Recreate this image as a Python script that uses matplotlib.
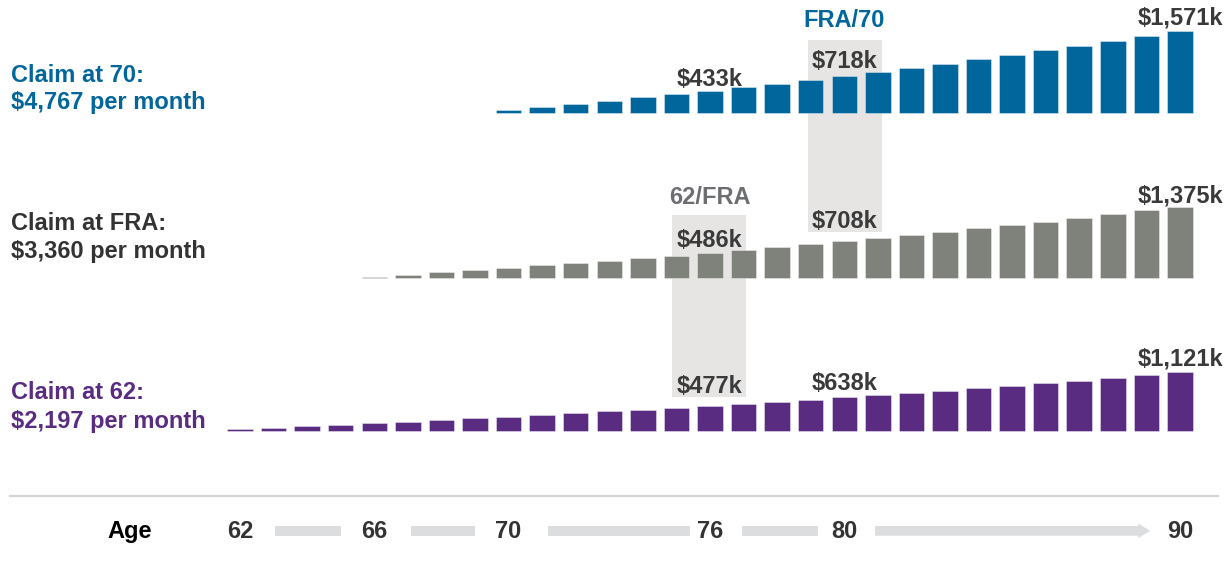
import matplotlib.pyplot as plt
from matplotlib.patches import Rectangle, FancyArrow

# cumulative benefits ($k) by age for each claiming strategy
ages_62 = list(range(62, 91))
claim_62 = [26, 53, 81, 110, 141, 172, 204, 237, 270, 303, 337, 372, 405, 441, 477,
            516, 556, 597, 638, 681, 725, 771, 817, 864, 913, 963, 1014, 1067, 1121]

ages_fra = list(range(66, 91))
claim_fra = [30, 70, 113, 157, 200, 246, 292, 340, 388, 437, 486, 540, 596, 652, 708,
             772, 834, 898, 961, 1025, 1090, 1163, 1234, 1305, 1375]

ages_70 = list(range(70, 91))
claim_70 = [60, 118, 178, 240, 304, 368, 433, 500, 570, 642, 718, 795, 875, 956, 1038,
            1121, 1208, 1295, 1386, 1478, 1571]

label_ages = [76, 80, 90]
row_titles = [('Claim at 70:', '$4,767 per month'),
              ('Claim at FRA:', '$3,360 per month'),
              ('Claim at 62:', '$2,197 per month')]
age_ticks = [62, 66, 70, 76, 80, 90]

BLUE = '#00669b'
GRAY = '#7f817b'
PURPLE = '#592c82'
TEXT = '#3a3a3a'
BOX = '#e6e5e4'

plt.rcParams['font.family'] = ['Liberation Sans', 'DejaVu Sans']
plt.rcParams['font.weight'] = 'bold'

W, H = 1226, 562
K = 19.2          # $k per pixel, same scale for every row
PX_PER_YEAR = 33.57


def ax_x(px):
    return 62 + (px - 240) / PX_PER_YEAR


def ax_y(px):
    return (H - px) * K


fig = plt.figure(figsize=(W / 100, H / 100), dpi=100)
ax = fig.add_axes([0, 0, 1, 1])
ax.set_xlim(ax_x(0), ax_x(W))
ax.set_ylim(0, H * K)
ax.axis('off')

# breakeven boxes
ax.add_patch(Rectangle((78.91, ax_y(231.7)), 2.2, ax_y(40) - ax_y(231.7),
                       color=BOX, lw=0, zorder=0))
ax.add_patch(Rectangle((74.86, ax_y(397.3)), 2.21, ax_y(215) - ax_y(397.3),
                       color=BOX, lw=0, zorder=0))
ax.text(80, ax_y(26.7), 'FRA/70', color=BLUE, fontsize=17, ha='center', va='baseline')
ax.text(76, ax_y(204), '62/FRA', color='#6d6e71', fontsize=17, ha='center', va='baseline')

rows = [
    (ages_70, claim_70, BLUE, 113.3, [4.7, 7.9, 6.6]),
    (ages_fra, claim_fra, GRAY, 278.3, [6.0, 13.4, 3.7]),
    (ages_62, claim_62, PURPLE, 430.7, [12.6, 7.5, 7.0]),
]
title_colors = [BLUE, '#333333', PURPLE]
title_baselines = [(81.7, 109.3), (230.0, 258.3), (399.3, 427.7)]

for (ages, vals, color, base_px, pads), (t1, t2), tc, (b1, b2) in zip(
        rows, row_titles, title_colors, title_baselines):
    base = ax_y(base_px)
    ax.bar(ages, vals, width=0.76, bottom=base, color=color,
           edgecolor=(1, 1, 1, 0.45), linewidth=0.6, zorder=2)
    for a, pad in zip(label_ages, pads):
        v = vals[ages.index(a)]
        ax.text(a, base + v + pad * K, f'${v:,}k', color=TEXT, fontsize=17,
                ha='center', va='baseline', zorder=3)
    ax.text(ax_x(10.7), ax_y(b1), t1, color=tc, fontsize=17, ha='left', va='baseline')
    ax.text(ax_x(10.7), ax_y(b2), t2, color=tc, fontsize=17, ha='left', va='baseline')

# age axis
ax.plot([ax_x(10), ax_x(1218)], [ax_y(496), ax_y(496)], color='#d5d5d5', lw=1.6)
ax.text(ax_x(130), ax_y(538.3), 'Age', color='black', fontsize=17, ha='center', va='baseline')
for a in age_ticks:
    ax.text(a, ax_y(538.3), str(a), color='#333333', fontsize=17, ha='center', va='baseline')

band_y = ax_y(535.7)
band_h = ax_y(526) - ax_y(535.7)
segments = [(63.04, 65.01), (67.09, 69.0), (71.17, 75.4), (76.95, 79.22)]
for s, e in segments:
    ax.add_patch(Rectangle((s, band_y), e - s, band_h, color='#dcdddf', lw=0))
ax.add_patch(FancyArrow(80.92, band_y + band_h / 2, 89.11 - 80.92, 0, width=band_h,
                        head_width=band_h * 1.5, head_length=0.35,
                        length_includes_head=True, color='#dcdddf', lw=0))

fig.savefig('out.png', dpi=100)
